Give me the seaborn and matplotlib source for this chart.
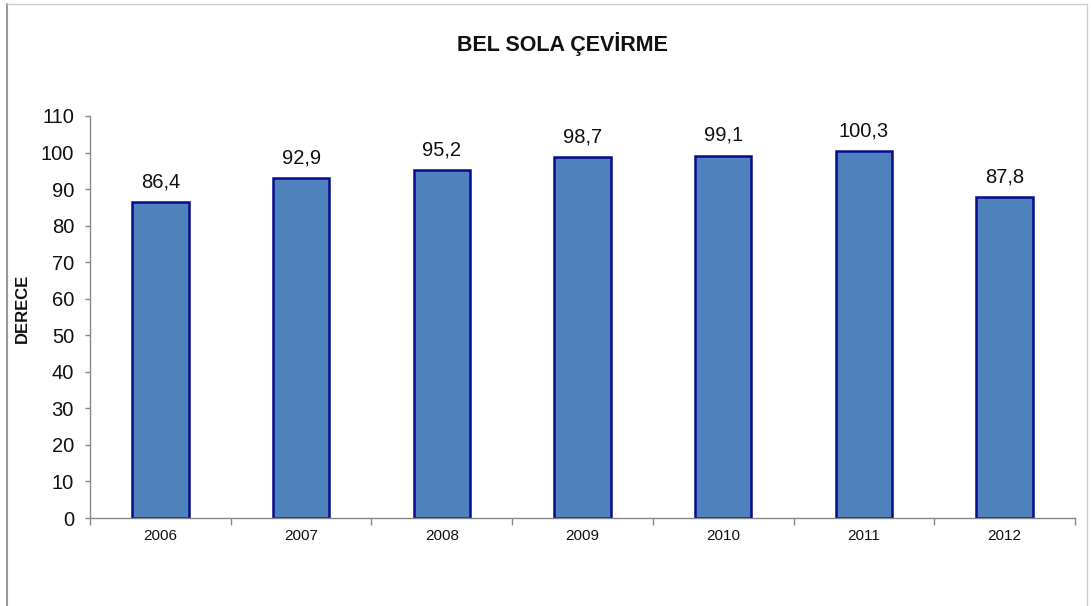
import matplotlib
matplotlib.use("Agg")
import matplotlib.pyplot as plt
from matplotlib.ticker import FixedLocator, MultipleLocator
import seaborn as sns
import pandas as pd

years = ["2006", "2007", "2008", "2009", "2010", "2011", "2012"]
values = [86.4, 92.9, 95.2, 98.7, 99.1, 100.3, 87.8]
value_labels = ["86,4", "92,9", "95,2", "98,7", "99,1", "100,3", "87,8"]

sns.set_theme(style="white")
plt.rcParams["font.family"] = ["Liberation Sans", "DejaVu Sans"]

df = pd.DataFrame({"year": years, "value": values})

fig = plt.figure(figsize=(10.91, 6.06), dpi=100)
ax = fig.add_axes([0.0825, 0.1452, 0.9028, 0.6634])

sns.barplot(data=df, x="year", y="value", ax=ax, width=0.4,
            color="#4F81BD", edgecolor="#0A0A8C", linewidth=1.8,
            saturation=1)

for patch, lab in zip(ax.patches, value_labels):
    ax.text(patch.get_x() + patch.get_width() / 2, patch.get_height() + 3.0,
            lab, ha="center", va="bottom", fontsize=14.5, color="#111111")

ax.set_ylim(0, 110)
ax.set_xlim(-0.5, 6.5)
ax.yaxis.set_major_locator(MultipleLocator(10))
ax.set_xlabel("")
ax.set_ylabel("")
ax.tick_params(axis="y", labelsize=14.5, colors="#111111", length=3.5, width=1,
               direction="out", left=True, color="#888888", pad=8)
ax.tick_params(axis="x", which="major", labelsize=11, colors="#111111", length=0, pad=8)
ax.xaxis.set_minor_locator(FixedLocator([i - 0.5 for i in range(len(years) + 1)]))
ax.tick_params(axis="x", which="minor", length=5, width=1, color="#888888",
               direction="out", bottom=True)

for side in ["top", "right"]:
    ax.spines[side].set_visible(False)
for side in ["left", "bottom"]:
    ax.spines[side].set_color("#888888")
    ax.spines[side].set_linewidth(1)

fig.text(22 / 1091, 1 - 308 / 606, "DERECE", rotation=90, ha="center", va="center",
         fontsize=12, fontweight="bold", color="#111111")

fig.text(562 / 1091, 1 - 44 / 606, "BEL SOLA ÇEVİRME", ha="center", va="center",
         fontsize=15.5, fontweight="bold", color="#111111")

# outer chart frame
fig.add_artist(plt.Line2D([7 / 1091, 7 / 1091], [0, 1 - 4 / 606],
                          transform=fig.transFigure, color="#999999", lw=1.5))
fig.add_artist(plt.Line2D([7 / 1091, 1087 / 1091], [1 - 4 / 606, 1 - 4 / 606],
                          transform=fig.transFigure, color="#cccccc", lw=1))
fig.add_artist(plt.Line2D([1087 / 1091, 1087 / 1091], [0, 1 - 4 / 606],
                          transform=fig.transFigure, color="#cccccc", lw=1))

fig.savefig("out.png", dpi=100)
